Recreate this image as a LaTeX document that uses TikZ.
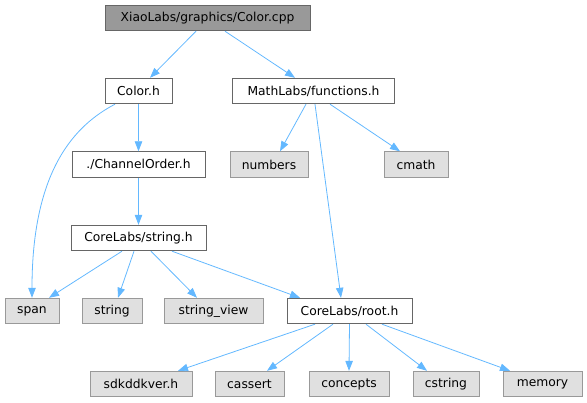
\documentclass[tikz,border=0pt]{standalone}
\usepackage{fontspec}
\setmainfont{DejaVu Sans}
\usetikzlibrary{arrows.meta}
\definecolor{edgeblue}{HTML}{63B8FF}
\definecolor{rootfill}{HTML}{999999}
\definecolor{darkborder}{HTML}{666666}
\definecolor{leaffill}{HTML}{E0E0E0}
\definecolor{leafborder}{HTML}{999999}
\tikzset{
  box/.style={draw=darkborder, line width=0.9pt, fill=white, minimum height=25.5pt, inner sep=0pt, font=\fontsize{12.3pt}{14pt}\selectfont, text=black},
  rootbox/.style={box, fill=rootfill},
  leafbox/.style={box, draw=leafborder, fill=leaffill},
  edge/.style={draw=edgeblue, line width=0.8pt, -{Triangle[length=10pt,width=7.5pt]}},
}
\begin{document}
\begin{tikzpicture}[x=1pt,y=-1pt]
\useasboundingbox (0,0) rectangle (587,403);
\node[rootbox, minimum width=205pt] (cpp) at (207.5,18) {XiaoLabs/graphics/Color.cpp};
\node[box, minimum width=67pt] (colorh) at (138.5,91) {Color.h};
\node[box, minimum width=162pt] (func) at (313.5,91) {MathLabs/functions.h};
\node[leafbox, minimum width=78pt] (numbers) at (269,164.5) {numbers};
\node[leafbox, minimum width=64pt] (cmath) at (416,164.5) {cmath};
\node[box, minimum width=133pt] (chan) at (138.5,164.5) {./ChannelOrder.h};
\node[box, minimum width=135pt] (strh) at (138.5,238) {CoreLabs/string.h};
\node[leafbox, minimum width=54pt] (span) at (32,311) {span};
\node[leafbox, minimum width=60pt] (string) at (112,311) {string};
\node[leafbox, minimum width=99pt] (sview) at (213.5,311) {string\_view};
\node[box, minimum width=125pt] (root) at (349.5,311) {CoreLabs/root.h};
\node[leafbox, minimum width=102pt] (sdk) at (141,384) {sdkddkver.h};
\node[leafbox, minimum width=69pt] (cassert) at (249.5,384) {cassert};
\node[leafbox, minimum width=80pt] (concepts) at (349,384) {concepts};
\node[leafbox, minimum width=66pt] (cstring) at (446,384) {cstring};
\node[leafbox, minimum width=79pt] (memory) at (542.5,384) {memory};

\draw[edge] ([xshift=-11.5pt]cpp.south) -- ([xshift=11.5pt]colorh.north);
\draw[edge] ([xshift=17.5pt]cpp.south) -- ([xshift=-18.5pt]func.north);
\draw[edge] ([xshift=-23.5pt]colorh.south) .. controls ++(-40,21) and ++(0,-128) .. (span.north);
\draw[edge] (colorh.south) -- (chan.north);
\draw[edge] (chan.south) -- (strh.north);
\draw[edge] ([xshift=-7.5pt]func.south) -- ([xshift=11pt]numbers.north);
\draw[edge] ([xshift=1.5pt]func.south) -- ([xshift=-8.5pt]root.north);
\draw[edge] ([xshift=16.5pt]func.south) -- ([xshift=-16pt]cmath.north);
\draw[edge] ([xshift=-16.5pt]strh.south) -- ([xshift=17pt]span.north);
\draw[edge] ([xshift=-4.5pt]strh.south) -- ([xshift=6pt]string.north);
\draw[edge] ([xshift=12.5pt]strh.south) -- ([xshift=-16.5pt]sview.north);
\draw[edge] ([xshift=33.5pt]strh.south) -- ([xshift=-49.5pt]root.north);
\draw[edge] ([xshift=-34.5pt]root.south) -- ([xshift=37pt]sdk.north);
\draw[edge] ([xshift=-16.5pt]root.south) -- ([xshift=17.5pt]cassert.north);
\draw[edge] (root.south) -- (concepts.north);
\draw[edge] ([xshift=16.5pt]root.south) -- ([xshift=-19pt]cstring.north);
\draw[edge] ([xshift=32.5pt]root.south) -- ([xshift=-32.5pt]memory.north);
\end{tikzpicture}
\end{document}
